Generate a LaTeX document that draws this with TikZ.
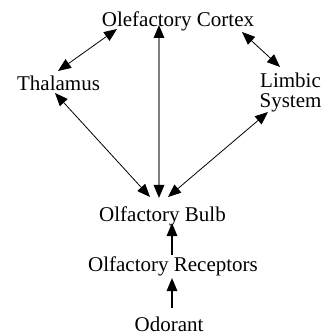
\documentclass[tikz,border=0pt]{standalone}
\usepackage{fontspec}
\setmainfont{Liberation Serif}
\usetikzlibrary{arrows.meta,calc}
\begin{document}
\begin{tikzpicture}[x=1pt,y=-1pt,
  lbl/.style={inner sep=0pt, outer sep=0pt, font=\fontsize{21}{20}\selectfont},
  >={Triangle[length=13pt,width=10.5pt,color=black]},
  both/.style={<->, line width=0.8pt, black},
  grayline/.style={<->, line width=1.6pt, black!50},
  up/.style={->, line width=1.6pt, black}]
\useasboundingbox (0,0) rectangle (323,336);
\node[lbl, anchor=base] (cortex) at (178,27) {Olefactory Cortex};
\node[lbl, anchor=base] (thal) at (58.5,91) {Thalamus};
\node[lbl, align=center, anchor=center] (limbic) at (290.5,92) {Limbic\\System};
\node[lbl, anchor=base] (bulb) at (162.5,221) {Olfactory Bulb};
\node[lbl, anchor=base] (recep) at (173,271) {Olfactory Receptors};
\node[lbl, anchor=base] (odor) at (169,331.5) {Odorant};
\draw[both] ($(cortex.base)+(-61,2)$) -- ($(thal.base)+(-0.5,-20)$);
\draw[both] ($(cortex.base)+(64,5)$) -- ($(limbic.center)+(-10.5,-25)$);
\draw[grayline] ($(cortex.base)+(-19,-2)$) -- ($(bulb.base)+(-3.5,-23)$);
\draw[both] ($(thal.base)+(-3.5,2)$) -- ($(bulb.base)+(-12.5,-24)$);
\draw[both] ($(limbic.center)+(-22.5,20)$) -- ($(bulb.base)+(5.5,-24)$);
\draw[up] ($(recep.base)+(-1,-16)$) -- ($(bulb.base)+(9.5,2)$);
\draw[up] ($(odor.base)+(3,-23.5)$) -- ($(recep.base)+(-1,7)$);
\end{tikzpicture}
\end{document}
